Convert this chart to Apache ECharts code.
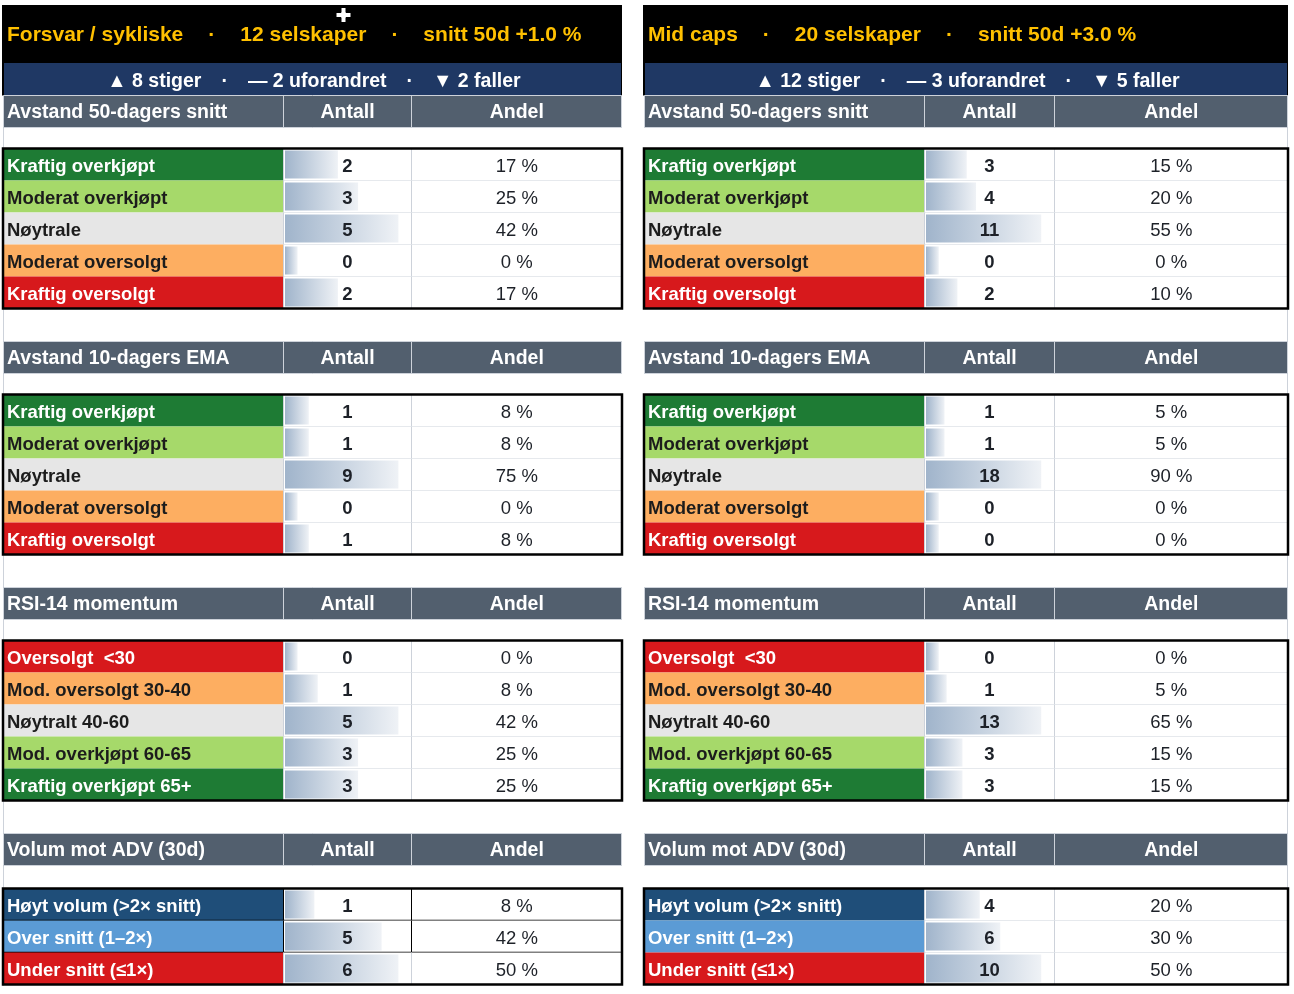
<!DOCTYPE html>
<html>
<head>
<meta charset="utf-8">
<script src="https://cdn.jsdelivr.net/npm/echarts@6/dist/echarts.min.js"></script>
<style>
html,body{margin:0;padding:0;background:#ffffff;}
#chart{width:1294px;height:994px;}
</style>
</head>
<body>
<div id="chart"></div>
<script>
// ---------------- DATA ----------------
const panelTitles = ['Forsvar / sykliske', 'Mid caps'];
const panelCompanies = [12, 20];
const panelAvg50Change = [1.0, 3.0];
const panelRisers = [8, 12];
const panelUnchanged = [2, 3];
const panelFallers = [2, 5];

const sectionTitles = ['Avstand 50-dagers snitt', 'Avstand 10-dagers EMA', 'RSI-14 momentum', 'Volum mot ADV (30d)'];
const columnHeaders = ['Antall', 'Andel'];

const sma50Labels = ['Kraftig overkjøpt', 'Moderat overkjøpt', 'Nøytrale', 'Moderat oversolgt', 'Kraftig oversolgt'];
const ema10Labels = ['Kraftig overkjøpt', 'Moderat overkjøpt', 'Nøytrale', 'Moderat oversolgt', 'Kraftig oversolgt'];
const rsiLabels = ['Oversolgt  <30', 'Mod. oversolgt 30-40', 'Nøytralt 40-60', 'Mod. overkjøpt 60-65', 'Kraftig overkjøpt 65+'];
const volumeLabels = ['Høyt volum (>2× snitt)', 'Over snitt (1–2×)', 'Under snitt (≤1×)'];

const leftSma50Counts = [2, 3, 5, 0, 2];
const leftSma50Shares = [17, 25, 42, 0, 17];
const leftEma10Counts = [1, 1, 9, 0, 1];
const leftEma10Shares = [8, 8, 75, 0, 8];
const leftRsiCounts = [0, 1, 5, 3, 3];
const leftRsiShares = [0, 8, 42, 25, 25];
const leftVolumeCounts = [1, 5, 6];
const leftVolumeShares = [8, 42, 50];

const rightSma50Counts = [3, 4, 11, 0, 2];
const rightSma50Shares = [15, 20, 55, 0, 10];
const rightEma10Counts = [1, 1, 18, 0, 0];
const rightEma10Shares = [5, 5, 90, 0, 0];
const rightRsiCounts = [0, 1, 13, 3, 3];
const rightRsiShares = [0, 5, 65, 15, 15];
const rightVolumeCounts = [4, 6, 10];
const rightVolumeShares = [20, 30, 50];

// ---------------- STYLE / LAYOUT ----------------
const FONT = '"Liberation Sans", Arial, Helvetica, sans-serif';
const C_DGREEN = '#1E7B34', C_LGREEN = '#A6D96A', C_GREY = '#E6E6E6', C_ORANGE = '#FDAE61', C_RED = '#D7191C';
const C_DBLUE = '#1F4E79', C_MBLUE = '#5B9BD5';
const WHITE = '#ffffff', DARK = '#1c1c1c';
const sma50Fills = [C_DGREEN, C_LGREEN, C_GREY, C_ORANGE, C_RED];
const sma50Inks = [WHITE, DARK, DARK, DARK, WHITE];
const rsiFills = [C_RED, C_ORANGE, C_GREY, C_LGREEN, C_DGREEN];
const rsiInks = [WHITE, DARK, DARK, DARK, WHITE];
const volumeFills = [C_DBLUE, C_MBLUE, C_RED];
const volumeInks = [WHITE, WHITE, WHITE];

const blockLabels = [sma50Labels, ema10Labels, rsiLabels, volumeLabels];
const blockFills = [sma50Fills, sma50Fills, rsiFills, volumeFills];
const blockInks = [sma50Inks, sma50Inks, rsiInks, volumeInks];
const panelCounts = [
  [leftSma50Counts, leftEma10Counts, leftRsiCounts, leftVolumeCounts],
  [rightSma50Counts, rightEma10Counts, rightRsiCounts, rightVolumeCounts]
];
const panelShares = [
  [leftSma50Shares, leftEma10Shares, leftRsiShares, leftVolumeShares],
  [rightSma50Shares, rightEma10Shares, rightRsiShares, rightVolumeShares]
];

const panelCols = [[3, 283.5, 411.5, 622], [644, 924.5, 1054.5, 1288]];
const TITLE_TOP = 5, TITLE_BOTTOM = 63, SUB_BOTTOM = 95.5;
const headerTops = [95.5, 341.5, 587.5, 833.5];
const dataTops = [148.5, 394.5, 640.5, 888.5];
const ROW_H = 32, HEAD_H = 32;
const LIGHT = '#CDD2DA';
const HEAD_BG = '#525F6E';
const SUB_BG = '#1F3864';
const GOLD = '#FFC000';
const NUM_INK = '#1d2128';
const TXT_DY = 2.5;     // optical text offset inside rows
const HEAD_DY = 1.5;

function buildItems(p) {
  const items = [{ k: 'guide' }, { k: 'title' }, { k: 'sub' }];
  for (let b = 0; b < 4; b++) {
    items.push({ k: 'head', b });
    const cnt = panelCounts[p][b];
    for (let r = 0; r < cnt.length; r++) items.push({ k: 'row', b, r });
    items.push({ k: 'frame', b });
  }
  return items;
}
const panelItems = [buildItems(0), buildItems(1)];

function makeRender(p) {
  return function (params, api) {
    const it = panelItems[p][params.dataIndex];
    const C = panelCols[p];
    const pt = (x, y) => api.coord([x, y]);
    const rect = (x1, y1, x2, y2, style) => {
      const a = pt(x1, y1), b = pt(x2, y2);
      return { type: 'rect', shape: { x: a[0], y: a[1], width: b[0] - a[0], height: b[1] - a[1] }, style };
    };
    const line = (x1, y1, x2, y2, stroke, lw) => {
      const a = pt(x1, y1), b = pt(x2, y2);
      return { type: 'line', shape: { x1: a[0], y1: a[1], x2: b[0], y2: b[1] }, style: { stroke, lineWidth: lw } };
    };
    const text = (x, y, str, font, fill, align, extra) => {
      const a = pt(x, y);
      return { type: 'text', x: a[0], y: a[1], style: Object.assign({ text: str, font, fill, align, verticalAlign: 'middle' }, extra || {}) };
    };
    const children = [];
    if (it.k === 'guide') {
      const gx = p === 0 ? C[0] + 0.5 : C[3] - 0.5;
      children.push(line(gx, SUB_BOTTOM, gx, 986, LIGHT, 1));
    } else if (it.k === 'title') {
      children.push(rect(C[0] - 1, TITLE_TOP, C[3], SUB_BOTTOM, { fill: '#000000' }));
      const tf = 'bold 21px ' + FONT;
      const sign = panelAvg50Change[p] >= 0 ? '+' : '';
      const str = '{t|' + panelTitles[p] + '}{d|·}{t|' + panelCompanies[p] + ' selskaper}{d|·}{t|snitt 50d ' + sign + panelAvg50Change[p].toFixed(1) + ' %}';
      children.push(text(C[0] + 4, (TITLE_TOP + TITLE_BOTTOM) / 2 + 1.5, str, tf, GOLD, 'left', {
        rich: { t: { font: tf, fill: GOLD }, d: { font: tf, fill: GOLD, padding: [0, 25] } }
      }));
    } else if (it.k === 'sub') {
      children.push(rect(C[0] + 1, TITLE_BOTTOM, C[3] - 1, SUB_BOTTOM - 0.5, { fill: SUB_BG }));
      const sf = 'bold 19.5px ' + FONT;
      const str = '{t|▲ ' + panelRisers[p] + ' stiger}{d|·}{t|— ' + panelUnchanged[p] + ' uforandret}{d|·}{t|▼ ' + panelFallers[p] + ' faller}';
      children.push(text((C[0] + C[3]) / 2 + 1.5, (TITLE_BOTTOM + SUB_BOTTOM) / 2 + 2, str, sf, WHITE, 'center', {
        rich: { t: { font: sf, fill: WHITE }, d: { font: sf, fill: WHITE, padding: [0, 20] } }
      }));
    } else if (it.k === 'head') {
      const y0 = headerTops[it.b], y1 = y0 + HEAD_H;
      children.push(rect(C[0] + 0.5, y0, C[3] - 0.5, y1, { fill: HEAD_BG, stroke: LIGHT, lineWidth: 1 }));
      children.push(line(C[1], y0, C[1], y1, LIGHT, 1));
      children.push(line(C[2], y0, C[2], y1, LIGHT, 1));
      const hf = 'bold 19.5px ' + FONT;
      const ym = (y0 + y1) / 2 + HEAD_DY;
      children.push(text(C[0] + 4, ym, sectionTitles[it.b], hf, WHITE, 'left'));
      children.push(text((C[1] + C[2]) / 2, ym, columnHeaders[0], hf, WHITE, 'center'));
      children.push(text((C[2] + C[3]) / 2, ym, columnHeaders[1], hf, WHITE, 'center'));
    } else if (it.k === 'row') {
      const b = it.b, r = it.r;
      const counts = panelCounts[p][b];
      const shares = panelShares[p][b];
      const n = counts.length;
      const y0 = dataTops[b] + r * ROW_H, y1 = y0 + ROW_H, ym = (y0 + y1) / 2 + TXT_DY;
      const strong = (p === 0 && b === 3);
      children.push(rect(C[0], y0, C[1], y1, { fill: blockFills[b][r] }));
      children.push(text(C[0] + 4, ym, blockLabels[b][r], 'bold 18.5px ' + FONT, blockInks[b][r], 'left'));
      children.push(rect(C[1], y0, C[3], y1, { fill: WHITE }));
      // Excel-style data bar: 10% .. 90% of the cell, scaled to block max
      const maxCount = Math.max.apply(null, counts);
      const innerW = (C[2] - C[1]) - 2;
      const frac = 0.1 + 0.8 * (maxCount > 0 ? counts[r] / maxCount : 0);
      const bx0 = C[1] + 1.5;
      const bx1 = bx0 + innerW * frac;
      children.push(rect(bx0, y0 + 2, bx1, y1 - 2, {
        fill: new echarts.graphic.LinearGradient(0, 0, 1, 0, [
          { offset: 0, color: '#A0B4CB' },
          { offset: 1, color: '#EFF2F6' }
        ])
      }));
      children.push(text((C[1] + C[2]) / 2, ym, String(counts[r]), 'bold 18.5px ' + FONT, NUM_INK, 'center'));
      children.push(text((C[2] + C[3]) / 2, ym, shares[r] + ' %', '18.5px ' + FONT, NUM_INK, 'center'));
      const vInk = (strong && r < n - 1) ? '#000000' : LIGHT;
      children.push(line(C[2], y0, C[2], y1, vInk, 1));
      children.push(line(C[1], y0, C[1], y1, vInk, 1));
      if (r < n - 1) {
        if (strong) children.push(line(C[0], y1, C[3], y1, '#000000', 1.5));
        else children.push(line(C[1], y1, C[3], y1, LIGHT, 1));
      }
    } else if (it.k === 'frame') {
      const n = panelCounts[p][it.b].length;
      const y0 = dataTops[it.b], y1 = y0 + n * ROW_H;
      children.push(rect(C[0], y0, C[3], y1, { fill: null, stroke: '#000000', lineWidth: 2.5 }));
    }
    return { type: 'group', children };
  };
}

const chart = echarts.init(document.getElementById('chart'), null, { renderer: 'canvas' });
const series = [0, 1].map(p => ({
  type: 'custom',
  coordinateSystem: 'cartesian2d',
  xAxisIndex: 0,
  yAxisIndex: 0,
  silent: true,
  animation: false,
  clip: false,
  renderItem: makeRender(p),
  data: panelItems[p].map((it, i) => {
    if (it.k === 'row') return [panelCounts[p][it.b][it.r], panelShares[p][it.b][it.r]];
    return [0, i];
  })
}));

chart.setOption({
  animation: false,
  backgroundColor: '#ffffff',
  grid: { left: 0, top: 0, width: 1294, height: 994, containLabel: false },
  xAxis: { type: 'value', min: 0, max: 1294, show: false },
  yAxis: { type: 'value', min: 0, max: 994, inverse: true, show: false },
  series,
  graphic: [{
    type: 'polygon',
    silent: true,
    z: 100,
    shape: { points: [[341, 7.5], [346, 7.5], [346, 12.5], [351, 12.5], [351, 17.5], [346, 17.5], [346, 22.5], [341, 22.5], [341, 17.5], [336, 17.5], [336, 12.5], [341, 12.5]] },
    style: { fill: '#ffffff', stroke: '#000000', lineWidth: 1 }
  }]
});
</script>
</body>
</html>
